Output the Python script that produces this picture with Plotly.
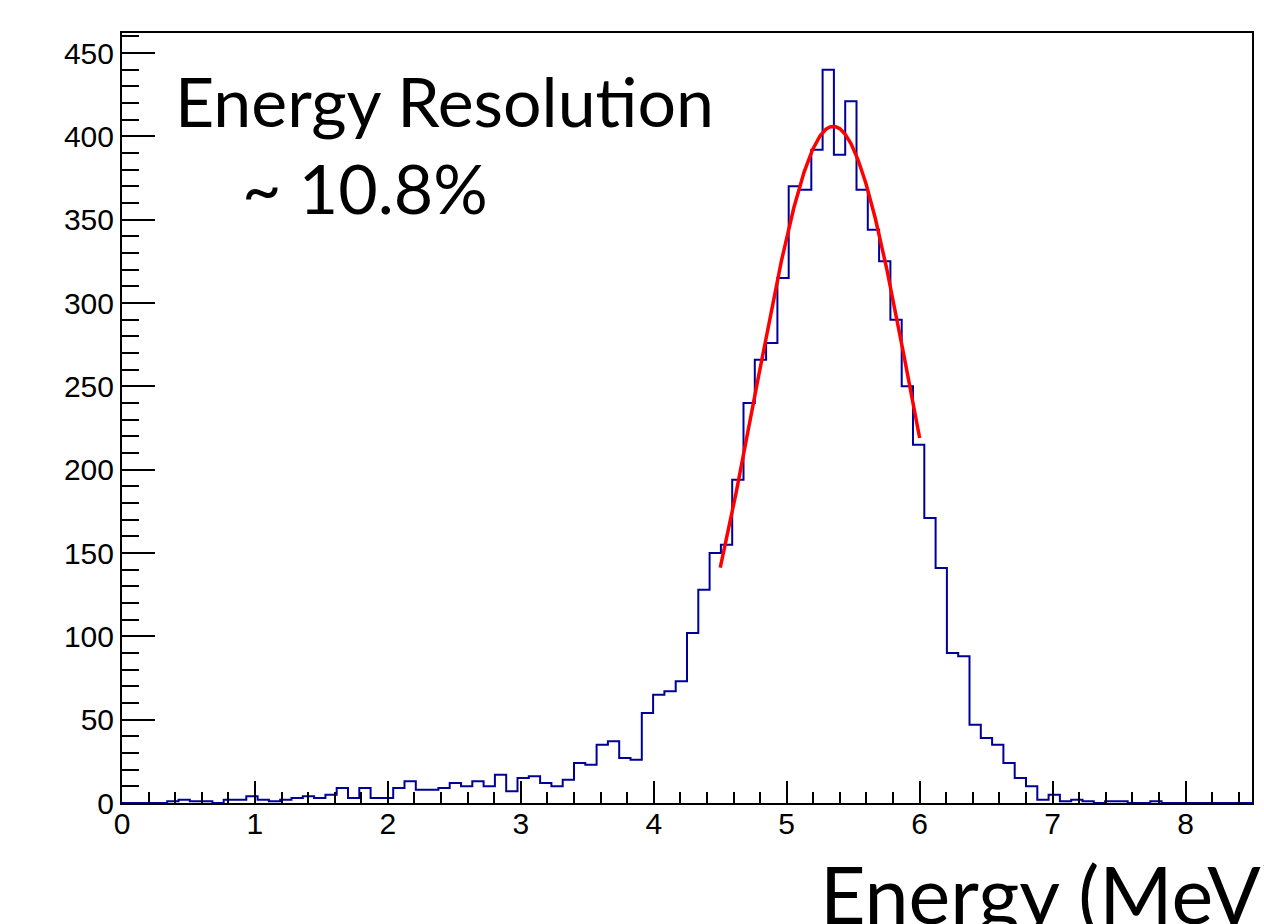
import numpy as np
import plotly.graph_objects as go

# Histogram definition (100 bins from 0 to 8.5 MeV)
bin_lo = 0.0
bin_hi = 8.5
n_bins = 100
counts = [
    0, 0, 0, 0, 1, 2, 1, 1, 0, 2,
    2, 4, 2, 1, 2, 3, 4, 3, 5, 9,
    3, 9, 3, 3, 9, 13, 8, 8, 9, 12,
    10, 13, 10, 17, 7, 15, 16, 12, 10, 14,
    24, 23, 35, 37, 27, 26, 54, 65, 67, 73,
    102, 128, 150, 155, 194, 240, 266, 276, 315, 370,
    368, 392, 440, 389, 421, 368, 344, 325, 290, 250,
    215, 171, 141, 90, 88, 47, 39, 35, 24, 15,
    10, 2, 5, 1, 2, 1, 0, 1, 1, 0,
    0, 1, 0, 0, 0, 0, 0, 0, 0, 0,
]

# Gaussian fit parameters
fit_const = 406.0
fit_mean = 5.35
fit_sigma = 0.585
fit_lo = 4.5
fit_hi = 6.0

x_ticks = [0, 1, 2, 3, 4, 5, 6, 7, 8]
y_ticks = [0, 50, 100, 150, 200, 250, 300, 350, 400, 450]

label_main = "Energy Resolution"
label_res = "~ 10.8%"
label_axis = "Energy (MeV)"

edges = np.linspace(bin_lo, bin_hi, n_bins + 1)
hx = list(edges)
hy = list(counts) + [counts[-1]]

fx = np.linspace(fit_lo, fit_hi, 300)
fy = fit_const * np.exp(-0.5 * ((fx - fit_mean) / fit_sigma) ** 2)

fig = go.Figure()
fig.add_trace(go.Scatter(x=hx, y=hy, mode="lines", line=dict(shape="hv", color="#000099", width=2),
                         hoverinfo="skip"))
fig.add_trace(go.Scatter(x=fx, y=fy, mode="lines", line=dict(color="#ff0000", width=3.5),
                         hoverinfo="skip"))

tickfont = dict(family="Liberation Sans, Arial, sans-serif", size=30, color="black")
fig.update_layout(
    width=1264, height=924,
    margin=dict(l=122, r=10, t=33, b=121),
    paper_bgcolor="white", plot_bgcolor="white",
    showlegend=False,
    xaxis=dict(range=[bin_lo, bin_hi], tickvals=x_ticks, ticktext=[str(v) for v in x_ticks],
               ticks="inside", ticklen=22, tickwidth=2, tickcolor="black",
               minor=dict(dtick=0.2, ticks="inside", ticklen=11, tickwidth=1.5, tickcolor="black"),
               showline=True, linecolor="black", linewidth=2, mirror=True,
               showgrid=False, zeroline=False, tickfont=tickfont, ticklabelstandoff=-7),
    yaxis=dict(range=[0, 462], tickvals=y_ticks, ticktext=[str(v) for v in y_ticks],
               ticks="inside", ticklen=33, tickwidth=2, tickcolor="black",
               minor=dict(dtick=10, ticks="inside", ticklen=17, tickwidth=1.5, tickcolor="black"),
               showline=True, linecolor="black", linewidth=2, mirror=True,
               showgrid=False, zeroline=False, tickfont=tickfont),
)

textfont = dict(family="Lato, Open Sans, sans-serif", size=68, color="black")
fig.add_annotation(text=label_main, xref="paper", yref="paper", x=(173 - 122) / 1132, y=(802.7 - 100) / 770,
                   xanchor="left", yanchor="middle", showarrow=False, font=textfont)
fig.add_annotation(text=label_res, xref="paper", yref="paper", x=(240 - 122) / 1132, y=(802.7 - 187) / 770,
                   xanchor="left", yanchor="middle", showarrow=False, font=textfont)
fig.add_annotation(text=label_axis, xref="paper", yref="paper", x=(819 - 122) / 1132, y=(802.7 - 893) / 770,
                   xanchor="left", yanchor="middle", showarrow=False,
                   font=dict(family="Lato, Open Sans, sans-serif", size=79, color="black"))

fig.write_html("out.html")
